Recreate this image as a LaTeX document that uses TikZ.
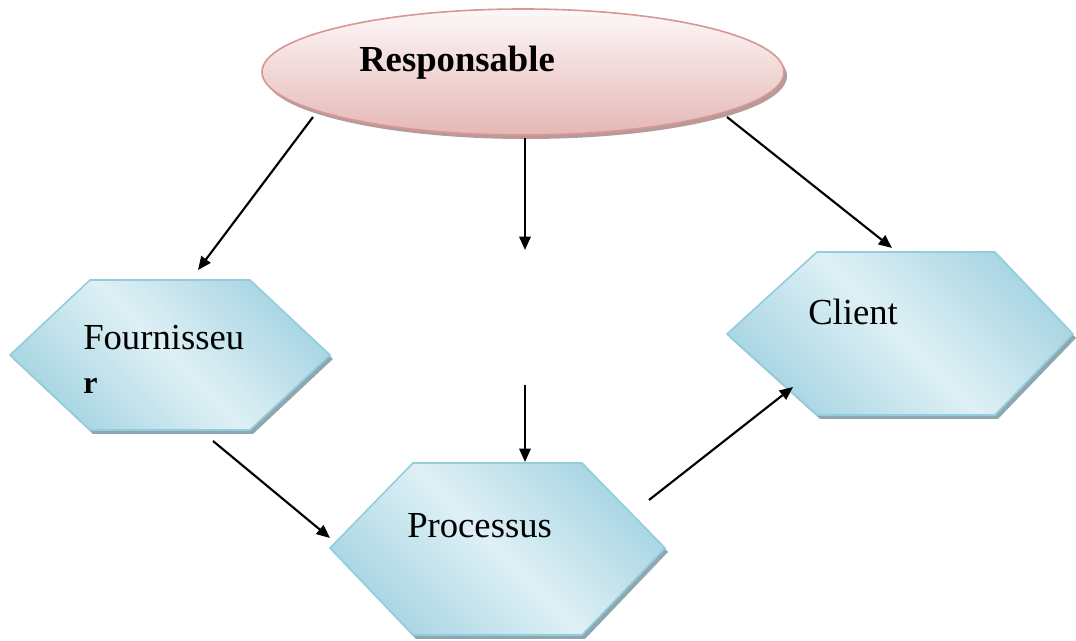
\documentclass[tikz,border=0pt]{standalone}
\usepackage{fontspec}
\setmainfont{Liberation Serif}
\usetikzlibrary{shapes.geometric,arrows.meta,calc}
\definecolor{hexdark}{HTML}{A8D5E3}
\definecolor{hexlight}{HTML}{DEF0F5}
\definecolor{hexline}{HTML}{93CDDD}
\definecolor{hexshadow}{HTML}{8FA7B0}
\definecolor{elltop}{HTML}{FDF8F8}
\definecolor{ellbot}{HTML}{E5B7B6}
\definecolor{ellline}{HTML}{D99694}
\definecolor{ellshadow}{HTML}{B79A9A}
\begin{document}
\begin{tikzpicture}[x=0.75pt,y=-0.75pt,
  arr/.style={line width=1.6pt,-{Triangle[length=10pt,width=8.5pt]}},
  hexbody/.style={top color=hexdark,bottom color=hexdark,middle color=hexlight,
    shading angle=-45,draw=hexline,line width=1.2pt,line join=miter},
  hexshade/.style={fill=hexshadow},
  label/.style={font=\fontsize{27.5}{30}\selectfont,anchor=base west,inner sep=0pt}]
\useasboundingbox (0,0) rectangle (1076,641);

% Responsable ellipse with its shadow
\fill[ellshadow] (526,76) ellipse [x radius=261, y radius=63];
\node[ellipse,minimum width=391.5pt,minimum height=94.5pt,inner sep=0pt,
  top color=elltop,bottom color=ellbot,draw=ellline,line width=1.2pt] (resp) at (523,72) {};
\node[label,font=\fontsize{27.5}{30}\selectfont\bfseries] (resptext) at (359,72) {Responsable};

% Fournisseur hexagon
\fill[hexshade] (13,359) -- (93,284) -- (253,284) -- (333,359) -- (253,434) -- (93,434) -- cycle;
\shade[hexbody] (10,355) -- (90,280) -- (250,280) -- (330,355) -- (250,430) -- (90,430) -- cycle;
\node[label] (fourn) at (83,350) {Fournisseu};
\node[label,font=\fontsize{24}{26}\selectfont\bfseries] (fournr) at (83,394) {r};

% Client hexagon
\fill[hexshade] (730,338) -- (820,256) -- (998,256) -- (1076,338) -- (998,419) -- (820,419) -- cycle;
\shade[hexbody] (727,334) -- (817,252) -- (995,252) -- (1073,334) -- (995,415) -- (817,415) -- cycle;
\node[label] (client) at (808,325) {Client};

% Processus hexagon
\fill[hexshade] (333,552) -- (416,467) -- (585,467) -- (668,552) -- (585,639) -- (416,639) -- cycle;
\shade[hexbody] (330,548) -- (413,463) -- (582,463) -- (665,548) -- (582,635) -- (413,635) -- cycle;
\node[label] (proc) at (407,538) {Processus};

% arrow end points
\coordinate (r1) at (313,117);
\coordinate (f1) at (198,270);
\coordinate (r2) at (525,138);
\coordinate (m1) at (525,250);
\coordinate (m2) at (525,385);
\coordinate (p1) at (525,462);
\coordinate (r3) at (727,117);
\coordinate (c1) at (892,248);
\coordinate (f2) at (213,441);
\coordinate (p2) at (330,538);
\coordinate (p3) at (649,500);
\coordinate (c2) at (793,387);

\draw[arr] (r1) -- (f1);
\draw[arr] (r2) -- (m1);
\draw[arr] (r3) -- (c1);
\draw[arr] (m2) -- (p1);
\draw[arr] (f2) -- (p2);
\draw[arr] (p3) -- (c2);
\end{tikzpicture}
\end{document}
